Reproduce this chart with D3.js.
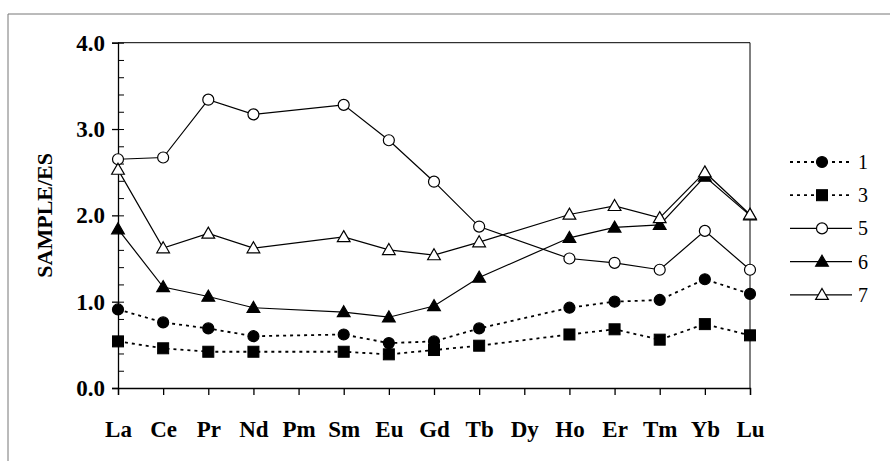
<!DOCTYPE html>
<html>
<head>
<meta charset="utf-8">
<script src="https://cdn.jsdelivr.net/npm/d3@7"></script>
<style>
  body { margin: 0; background: #fff; }
  text { font-family: "Liberation Serif", "Times New Roman", serif; }
</style>
</head>
<body>
<svg id="chart" width="890" height="461"></svg>
<script>
// de elementen langs de x-as
var elements = ["La", "Ce", "Pr", "Nd", "Pm", "Sm", "Eu", "Gd", "Tb", "Dy", "Ho", "Er", "Tm", "Yb", "Lu"];
var yTicks = [0, 1, 2, 3, 4];

// null = geen meting (Pm, Dy)
var s1 = [0.91, 0.76, 0.69, 0.60, null, 0.62, 0.52, 0.54, 0.69, null, 0.93, 1.00, 1.02, 1.26, 1.09];
var s3 = [0.54, 0.46, 0.42, 0.42, null, 0.42, 0.39, 0.44, 0.49, null, 0.62, 0.68, 0.56, 0.74, 0.61];
var s5 = [2.65, 2.67, 3.34, 3.17, null, 3.28, 2.87, 2.39, 1.87, null, 1.50, 1.45, 1.37, 1.82, 1.37];
var s6 = [1.84, 1.17, 1.06, 0.93, null, 0.88, 0.82, 0.95, 1.28, null, 1.74, 1.86, 1.89, 2.45, 2.00];
var s7 = [2.53, 1.62, 1.79, 1.62, null, 1.75, 1.60, 1.54, 1.69, null, 2.01, 2.11, 1.97, 2.50, 2.01];

var seriesNames = ["1", "3", "5", "6", "7"];
var seriesData = [s1, s3, s5, s6, s7];
var seriesMarker = ["circle", "square", "circle", "triangle", "triangle"];
var seriesFilled = [true, true, false, true, false];
var seriesDashed = [true, true, false, false, false];

var svg = d3.select("#chart");
var pLeft = 118, pRight = 750, pTop = 42.7, pBottom = 388;

var x = d3.scalePoint().domain(elements).range([pLeft, pRight]);
var y = d3.scaleLinear().domain([0, 4]).range([pBottom, pTop]);

// buitenkader
svg.append("path").attr("d", "M8,461V14H890").attr("fill", "none").attr("stroke", "#777").attr("stroke-width", 1);

// plotkader
svg.append("path").attr("d", "M" + pLeft + "," + pTop + "H" + pRight + "V" + pBottom)
  .attr("fill", "none").attr("stroke", "#000").attr("stroke-width", 1);

// y-as
var yAxis = svg.append("g").attr("transform", "translate(" + pLeft + ",0)")
  .call(d3.axisLeft(y).tickValues(yTicks).tickSize(6).tickFormat(d3.format(".1f")));
yAxis.attr("font-size", null).attr("font-family", null);
yAxis.selectAll("text").style("font-size", "23px").style("font-weight", "bold").attr("dx", -4);
yAxis.selectAll("path, line").attr("stroke", "#000").attr("stroke-width", 1.3);
svg.append("g").attr("transform", "translate(" + pLeft + ",0)")
  .call(d3.axisRight(y).ticks(20).tickSize(6).tickFormat(""))
  .call(function(g){ g.select(".domain").remove(); g.selectAll("line").attr("stroke", "#000"); });

// x-as
var xAxis = svg.append("g").attr("transform", "translate(0," + pBottom + ")")
  .call(d3.axisBottom(x).tickSize(7).tickPadding(26));
xAxis.attr("font-size", null).attr("font-family", null);
xAxis.selectAll("text").style("font-size", "23px").style("font-weight", "bold");
xAxis.selectAll("path, line").attr("stroke", "#000").attr("stroke-width", 1.3);

svg.append("text").attr("transform", "translate(52," + ((pTop + pBottom) / 2) + ") rotate(-90)")
  .attr("text-anchor", "middle").style("font-size", "22px").style("font-weight", "bold").text("SAMPLE/ES");

function marker(g, type, filled, cx, cy) {
  var fill = filled ? "#000" : "#fff";
  if (type == "circle") {
    g.append("circle").attr("cx", cx).attr("cy", cy).attr("r", 5.5)
      .attr("fill", fill).attr("stroke", "#000").attr("stroke-width", 1.2);
  } else if (type == "square") {
    g.append("rect").attr("x", cx - 5.5).attr("y", cy - 5.5).attr("width", 11).attr("height", 11)
      .attr("fill", fill).attr("stroke", "#000");
  } else {
    g.append("path").attr("d", d3.symbol(d3.symbolTriangle, 70)())
      .attr("transform", "translate(" + cx + "," + (cy + 1) + ")")
      .attr("fill", fill).attr("stroke", "#000").attr("stroke-width", 1.2);
  }
}

var line = d3.line().x(function(d){ return x(d.e); }).y(function(d){ return y(d.v); });

for (var i = 0; i < seriesData.length; i++) {
  var pts = [];
  for (var j = 0; j < elements.length; j++) {
    if (seriesData[i][j] != null) pts.push({e: elements[j], v: seriesData[i][j]});
  }
  var g = svg.append("g");
  g.append("path").attr("d", line(pts)).attr("fill", "none").attr("stroke", "#000")
    .attr("stroke-width", seriesDashed[i] ? 1.8 : 1.2)
    .attr("stroke-dasharray", seriesDashed[i] ? "3,4" : null);
  pts.forEach(function(p){ marker(g, seriesMarker[i], seriesFilled[i], x(p.e), y(p.v)); });

  // legenda
  var ly = 162 + i * 33.2;
  var lg = svg.append("g");
  lg.append("line").attr("x1", 790).attr("x2", 852).attr("y1", ly).attr("y2", ly)
    .attr("stroke", "#000").attr("stroke-width", seriesDashed[i] ? 1.8 : 1.2)
    .attr("stroke-dasharray", seriesDashed[i] ? "3,4" : null);
  marker(lg, seriesMarker[i], seriesFilled[i], 822, ly);
  lg.append("text").attr("x", 858).attr("y", ly + 7).style("font-size", "20px").text(seriesNames[i]);
}
</script>
</body>
</html>
